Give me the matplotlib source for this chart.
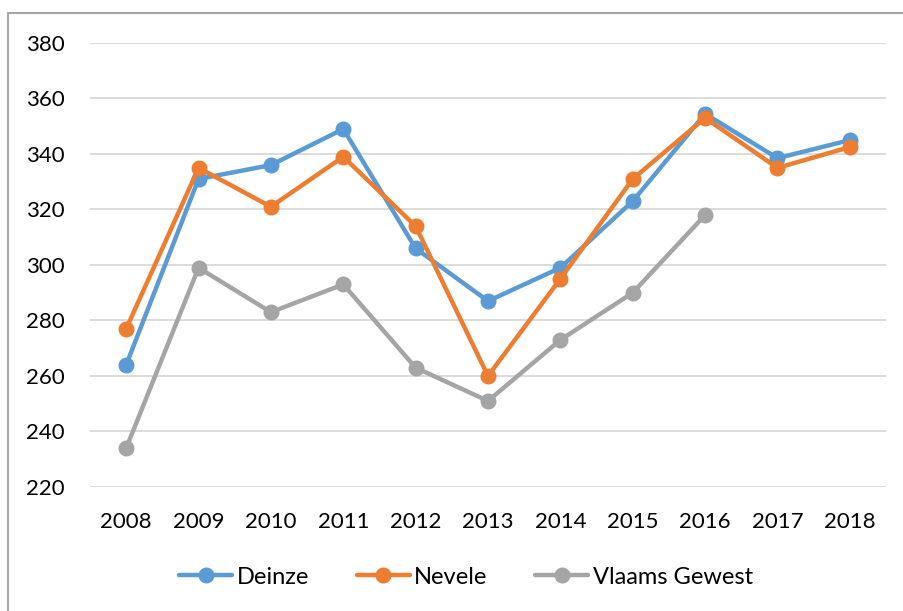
import matplotlib.pyplot as plt
from matplotlib.patches import Rectangle

years = ["2008", "2009", "2010", "2011", "2012", "2013", "2014", "2015", "2016", "2017", "2018"]
deinze = [264, 331, 336, 349, 306, 287, 299, 323, 354.5, 338.5, 345]
nevele = [277, 335, 321, 339, 314, 260, 295, 331, 353, 335, 342.5]
vlaams = [234, 299, 283, 293, 263, 251, 273, 290, 318]

plt.rcParams["font.family"] = ["Lato", "DejaVu Sans"]

W, H = 904, 611
fig = plt.figure(figsize=(W / 100, H / 100), dpi=100)
ax = fig.add_axes([90 / W, 1 - 487 / H, (886 - 90) / W, (487 - 43) / H])

# outer chart border (cropped at right/bottom)
fig.patches.append(Rectangle((8 / W, -0.1), 1.2, 1 - 13 / H + 0.1, transform=fig.transFigure,
                             fill=False, edgecolor="#a6a6a6", linewidth=1.5))

x = list(range(len(years)))
style = dict(linewidth=3.2, marker="o", markersize=10.5, solid_capstyle="round")
ax.plot(x, deinze, color="#5B9BD5", label="Deinze", **style)
ax.plot(x, nevele, color="#ED7D31", label="Nevele", **style)
ax.plot(x[:len(vlaams)], vlaams, color="#A5A5A5", label="Vlaams Gewest", **style)

ax.set_xlim(-0.5, len(years) - 0.5)
ax.set_ylim(220, 380)
ax.set_yticks(range(220, 381, 20))
ax.set_xticks(x)
ax.set_xticklabels(years)
ax.grid(axis="y", color="#d9d9d9", linewidth=1.3)
ax.set_axisbelow(True)
for s in ax.spines.values():
    s.set_visible(False)
ax.tick_params(length=0, labelsize=16, colors="#000000")
ax.tick_params(axis="y", pad=18)
ax.tick_params(axis="x", pad=18)

fig.legend(loc="center", bbox_to_anchor=(466 / W, 1 - 577 / H), ncol=3, frameon=False,
           fontsize=17, handlelength=2.25, columnspacing=2.0, handletextpad=0.2)

fig.savefig("out.png", dpi=100)
